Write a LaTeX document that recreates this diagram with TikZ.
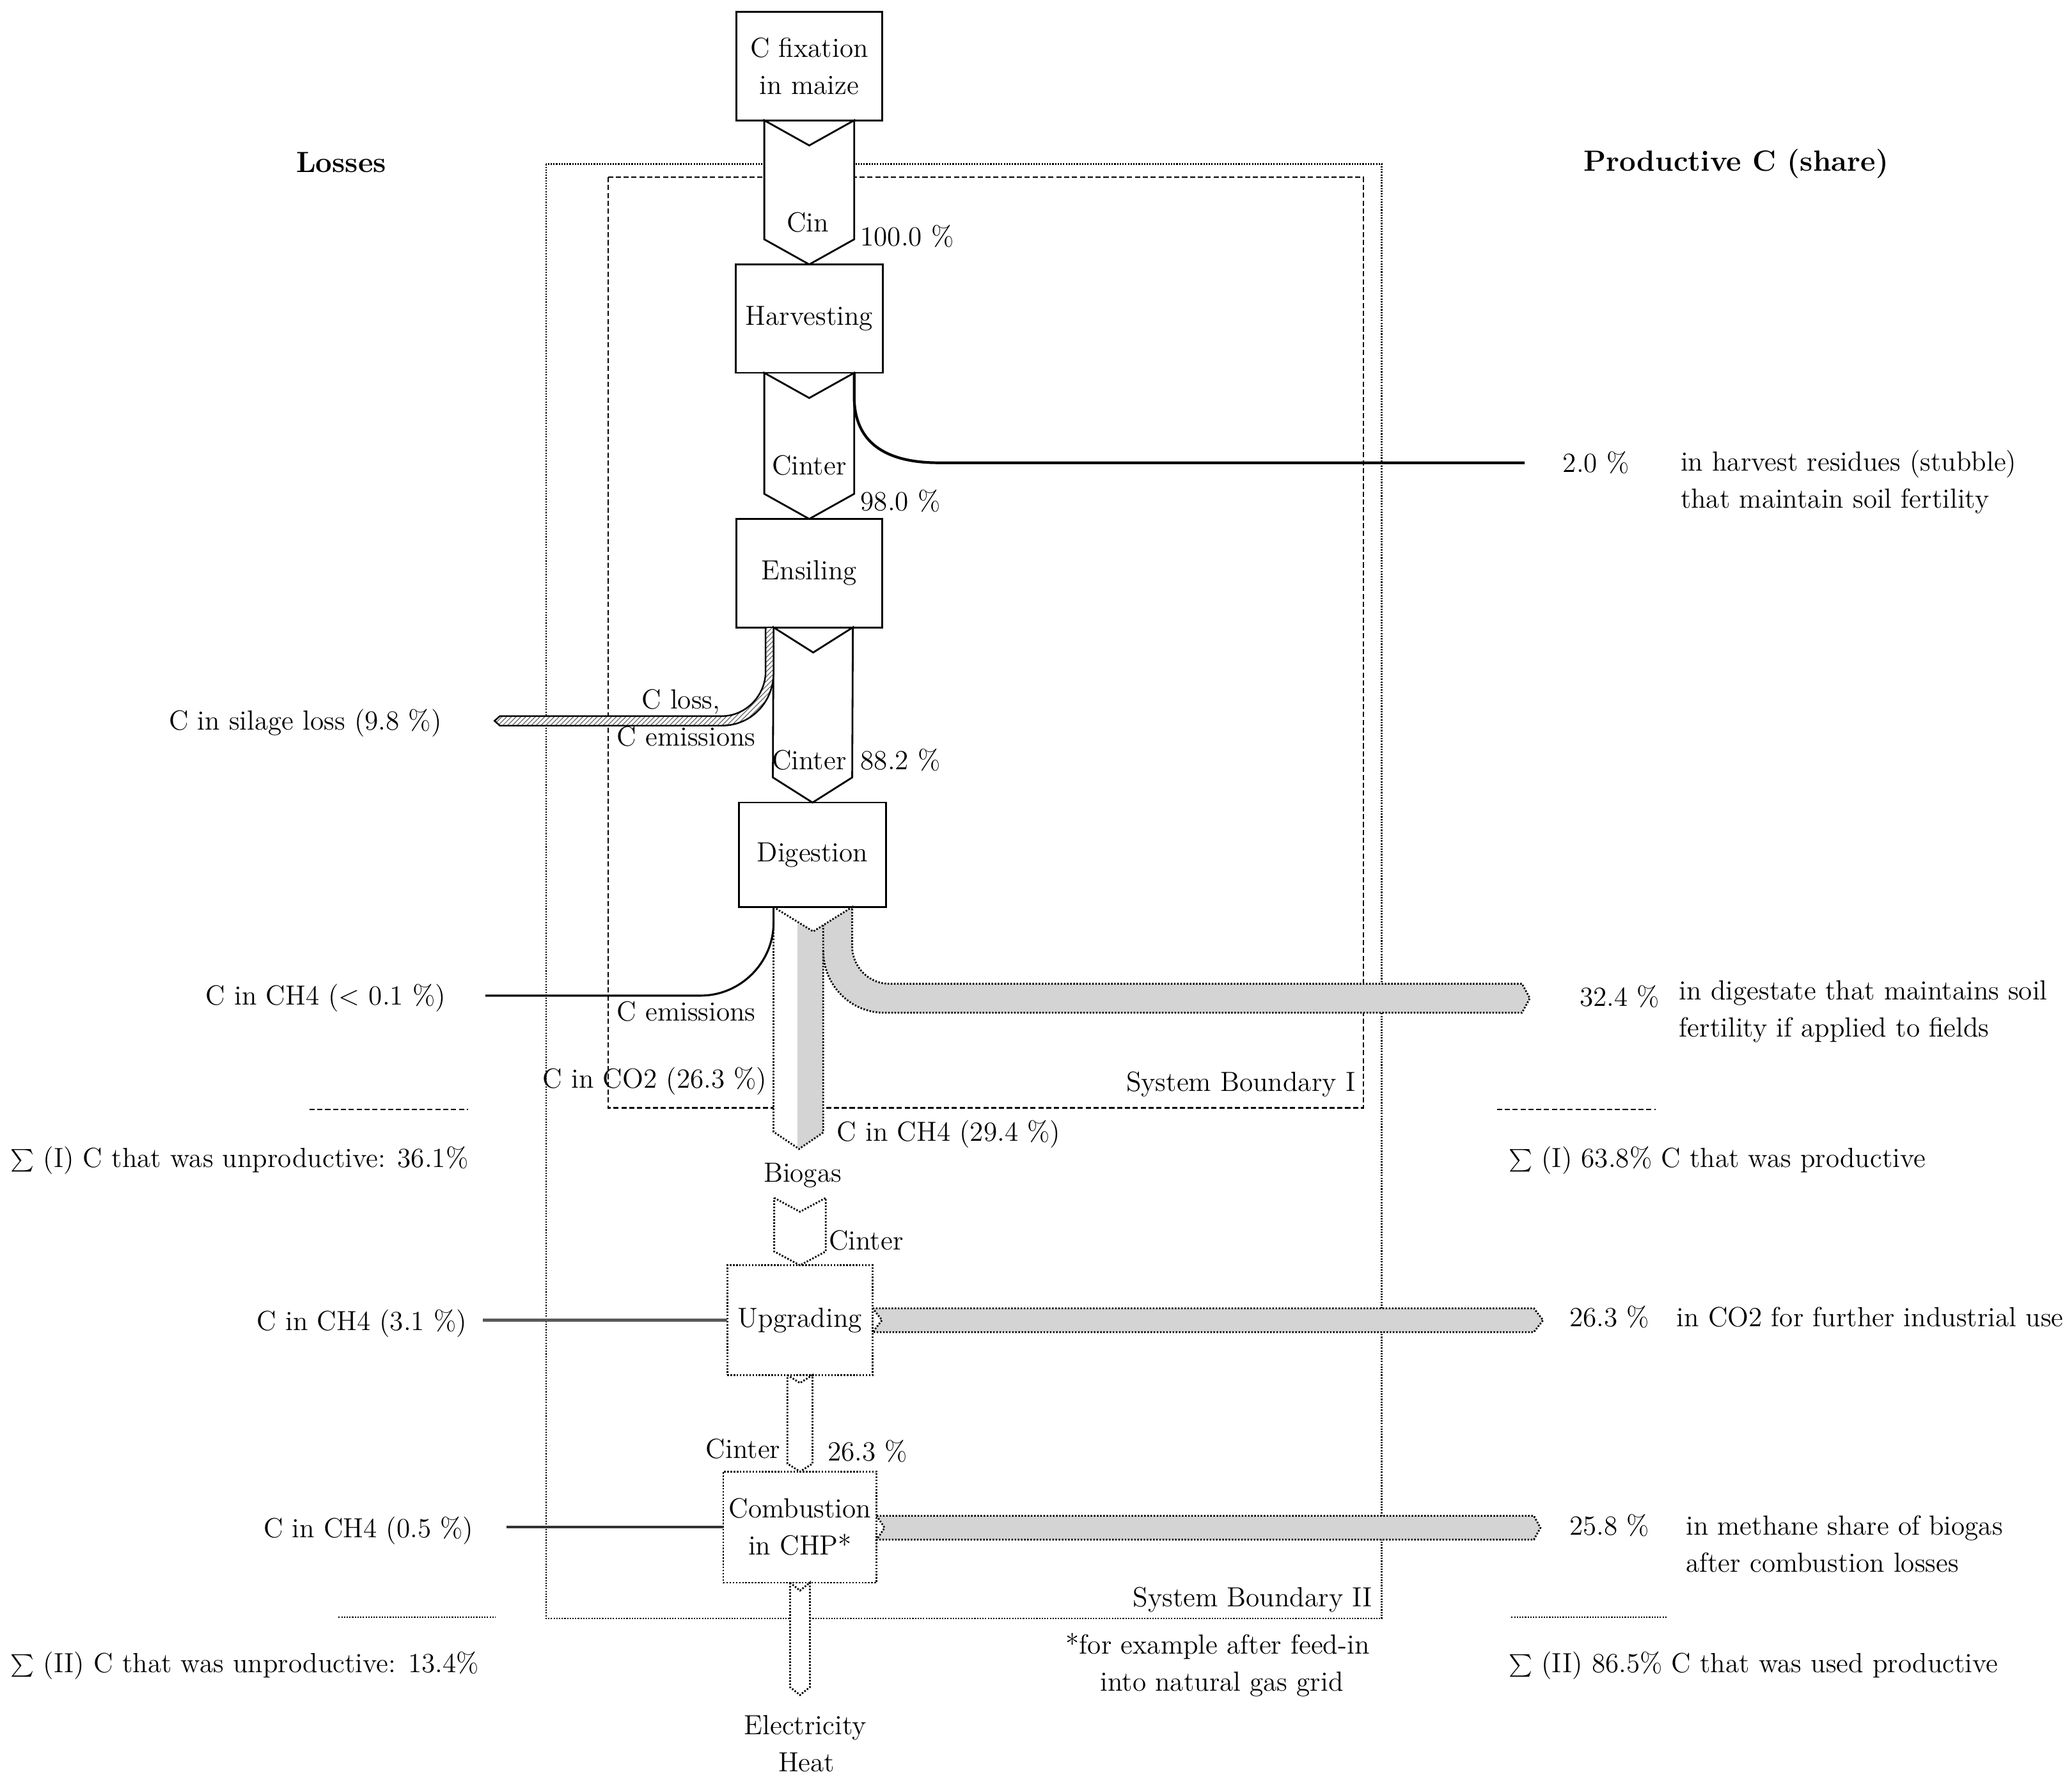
\documentclass[tikz,border=0pt]{standalone}
\usepackage{fontspec}
\usetikzlibrary{calc,patterns.meta}
\definecolor{bandgray}{gray}{0.83}
\newcommand\pxu{0.20676mm}
\newcommand\flowarrow[5][]{%
  \draw[#1] ($(#2)+(-#4,0)$) -- ($(#2)+(0,#5)$) -- ($(#2)+(#4,0)$) -- ($(#3)+(#4,-#5)$) -- (#3) -- ($(#3)+(-#4,-#5)$) -- cycle;}
\begin{document}
\begin{tikzpicture}[x=\pxu,y=-\pxu,
  every node/.style={inner sep=0pt,outer sep=0pt,font=\fontsize{12.3}{16.5}\selectfont},
  lbl/.style={text height=8.5pt,text depth=2.5pt},
  ttl/.style={font=\fontsize{13}{16}\selectfont\bfseries,text height=9pt,text depth=2.5pt},
  box/.style={draw,line width=0.8pt,fill=white,align=center},
  dotpat/.style={dash pattern=on 0.7pt off 0.7pt},
  dotbox/.style={box,dotpat},
  solidarr/.style={draw,line width=0.8pt,fill=white},
  dotarr/.style={draw,line width=0.8pt,fill=white,dotpat},
  sbone/.style={line width=0.7pt,dash pattern=on 2.3pt off 1.2pt},
  sbtwo/.style={line width=0.7pt,dash pattern=on 0.6pt off 0.6pt},
  band/.style={fill=bandgray,draw,line width=0.8pt,dotpat},
  lossline/.style={line width=1.2pt,black!65}]
\useasboundingbox (0,0) rectangle (1567,1350.8);

% system boundaries and separators
\draw[sbtwo] (413,124) rectangle (1045,1224);
\draw[sbone] (460,134) rectangle (1031,838);
\draw[sbone] (234,839) -- (354,839);
\draw[sbone] (1132,839) -- (1252,839);
\draw[sbtwo] (256,1223) -- (375,1223);
\draw[sbtwo] (1143,1223) -- (1261,1223);

% process boxes
\node[box,minimum width=110*\pxu,minimum height=82*\pxu] (fix) at (612,50) {C fixation\\in maize};
\node[box,minimum width=111*\pxu,minimum height=82*\pxu] (harv) at (612,241) {Harvesting};
\node[box,minimum width=110*\pxu,minimum height=82*\pxu] (ens) at (612,433.5) {Ensiling};
\node[box,minimum width=111*\pxu,minimum height=79*\pxu] (dig) at (614.5,646.5) {Digestion};
\node[dotbox,minimum width=110*\pxu,minimum height=83*\pxu] (upg) at (605,998.5) {Upgrading};
\node[dotbox,minimum width=116*\pxu,minimum height=84*\pxu] (chp) at (605,1155) {Combustion\\in CHP*};

% main solid flow arrows
\flowarrow[solidarr]{fix.south}{harv.north}{34}{19}
\flowarrow[solidarr]{harv.south}{ens.north}{34}{19}
\coordinate (a3t) at ($(ens.south)+(3,0)$);
\flowarrow[solidarr]{a3t}{dig.north}{30}{19}

% harvest residues line
\coordinate (resEnd) at (1153,350);
\draw[line width=1.2pt] ($(harv.south)+(34,0)$) -- (646,300) .. controls (646,335) and (670,350) .. (710,350) -- (resEnd);

% silage loss band
\draw[line width=0.7pt,preaction={fill=white},pattern={Lines[angle=45,distance=1.5pt,line width=0.35pt]},pattern color=black!60]
  (579,475) -- (579,508) .. controls (579,526) and (564,541.6) .. (546,541.6) -- (378,541.6) -- (374,545.2) -- (378,548.8)
  -- (546,548.8) .. controls (568,548.8) and (585,531) .. (585,509) -- (585,475);

% digestion outputs
\fill[white] (585,686) -- (615,704.5) -- (622.6,699.7) -- (622.6,856.5) -- (604.3,869) -- (585,856) -- cycle;
\fill[bandgray] (603,697.1) -- (615,704.5) -- (622.6,699.7) -- (622.6,856.5) -- (604.3,869) -- (603,868.1) -- cycle;
\fill[bandgray] (622.6,699.7) -- (644.5,686) -- (644.5,716) .. controls (644.5,731) and (657,744) .. (672,744) -- (1151,744)
  -- (1157,755) -- (1151,766) -- (669,766) .. controls (643,766) and (622.6,745) .. (622.6,719) -- cycle;
\draw[line width=0.8pt,dotpat] (585,686) -- (615,704.5) -- (644.5,686) -- (644.5,716) .. controls (644.5,731) and (657,744) .. (672,744)
  -- (1151,744) -- (1157,755) -- (1151,766) -- (669,766) .. controls (643,766) and (622.6,745) .. (622.6,719);
\draw[line width=0.8pt,dotpat] (585,686) -- (585,856) -- (604.3,869) -- (622.6,856.5) -- (622.6,699.7);

% C emissions line from digestion
\coordinate (emEnd) at (367,753);
\draw[line width=0.9pt] ($(dig.south west)+(26,0)$) -- (585,698) .. controls (585,728) and (560,753) .. (530,753) -- (emEnd);

% biogas path
\coordinate (bgT) at (605,906);
\flowarrow[dotarr]{bgT}{upg.north}{19.5}{10.5}
\flowarrow[dotarr]{upg.south}{chp.north}{9.5}{6}
\coordinate (outEnd) at (605,1282);
\flowarrow[dotarr]{chp.south}{outEnd}{7.5}{6}

% upgrading / combustion bands
\draw[band] (660,989.5) -- (1160,989.5) -- (1167,998.5) -- (1160,1007.5) -- (660,1007.5) -- (667,998.5) -- cycle;
\draw[band] (663,1146.5) -- (1160,1146.5) -- (1165,1155.5) -- (1160,1164.5) -- (663,1164.5) -- (669,1155.5) -- cycle;

% loss lines
\coordinate (l3) at (365,998.5);
\coordinate (l4) at (383,1155);
\draw[lossline] (l3) -- (upg.west);
\draw[lossline,black!80] (l4) -- (chp.west);

% titles
\node[ttl] (tLoss) at (258,125) {Losses};
\node[ttl] (tProd) at (1313,124) {Productive C (share)};

% flow labels
\node[lbl] (tCin) at (611,170) {Cin};
\node[lbl] (p100) at (686,181) {100.0 \%};
\node[lbl] (tCi1) at (612,354) {Cinter};
\node[lbl] (p98) at (681,381) {98.0 \%};
\node[lbl] (tCi2) at (612,577) {Cinter};
\node[lbl] (p88) at (681,577) {88.2 \%};
\node[lbl] (tCloss) at (515,531) {C loss,};
\node[lbl] (tCem1) at (519,559) {C emissions};
\node[lbl] (tCem2) at (519,767) {C emissions};
\node[lbl,anchor=east] (tCO2) at (580,818) {C in CO2 (26.3 \%)};
\node[lbl,anchor=west] (tCH4) at (633,858) {C in CH4 (29.4 \%)};
\node[lbl] (tBio) at (607,889) {Biogas};
\node[lbl] (tCi3) at (655,940) {Cinter};
\node[lbl] (tCi4) at (562,1098) {Cinter};
\node[lbl] (p263b) at (656,1100) {26.3 \%};
\node[lbl] (tEl) at (609,1307) {Electricity};
\node[lbl] (tHeat) at (610,1335) {Heat};
\node[lbl,anchor=east] (tSB1) at (1025,820) {System Boundary I};
\node[lbl,anchor=east] (tSB2) at (1038,1210) {System Boundary II};
\node[lbl] (tFn1) at (921,1246) {*for example after feed-in};
\node[lbl] (tFn2) at (924,1274) {into natural gas grid};

% losses (left)
\node[lbl,anchor=east] (lSil) at (334,547) {C in silage loss (9.8 \%)};
\node[lbl,anchor=east] (lCH4a) at (337,755) {C in CH4 (< 0.1 \%)};
\node[lbl,anchor=east] (lCH4b) at (353,1001) {C in CH4 (3.1 \%)};
\node[lbl,anchor=east] (lCH4c) at (358,1158) {C in CH4 (0.5 \%)};
\node[lbl,anchor=west] (sumL1) at (8,878) {$\sum$ (I) C that was unproductive: 36.1\%};
\node[lbl,anchor=west] (sumL2) at (8,1260) {$\sum$ (II) C that was unproductive: 13.4\%};

% productive (right)
\node[lbl] (r20) at (1207,352) {2.0 \%};
\node[lbl,anchor=west] (r20a) at (1271,351) {in harvest residues (stubble)};
\node[lbl,anchor=west] (r20b) at (1271,379) {that maintain soil fertility};
\node[lbl] (r324) at (1225,756) {32.4 \%};
\node[lbl,anchor=west] (r324a) at (1270,751) {in digestate that maintains soil};
\node[lbl,anchor=west] (r324b) at (1270,779) {fertility if applied to fields};
\node[lbl] (r263) at (1217,998) {26.3 \%};
\node[lbl,anchor=west] (r263a) at (1268,998) {in CO2 for further industrial use};
\node[lbl] (r258) at (1217,1156) {25.8 \%};
\node[lbl,anchor=west] (r258a) at (1275,1156) {in methane share of biogas};
\node[lbl,anchor=west] (r258b) at (1275,1184) {after combustion losses};
\node[lbl,anchor=west] (sumR1) at (1141,878) {$\sum$ (I) 63.8\% C that was productive};
\node[lbl,anchor=west] (sumR2) at (1141,1260) {$\sum$ (II) 86.5\% C that was used productive};
\end{tikzpicture}
\end{document}
